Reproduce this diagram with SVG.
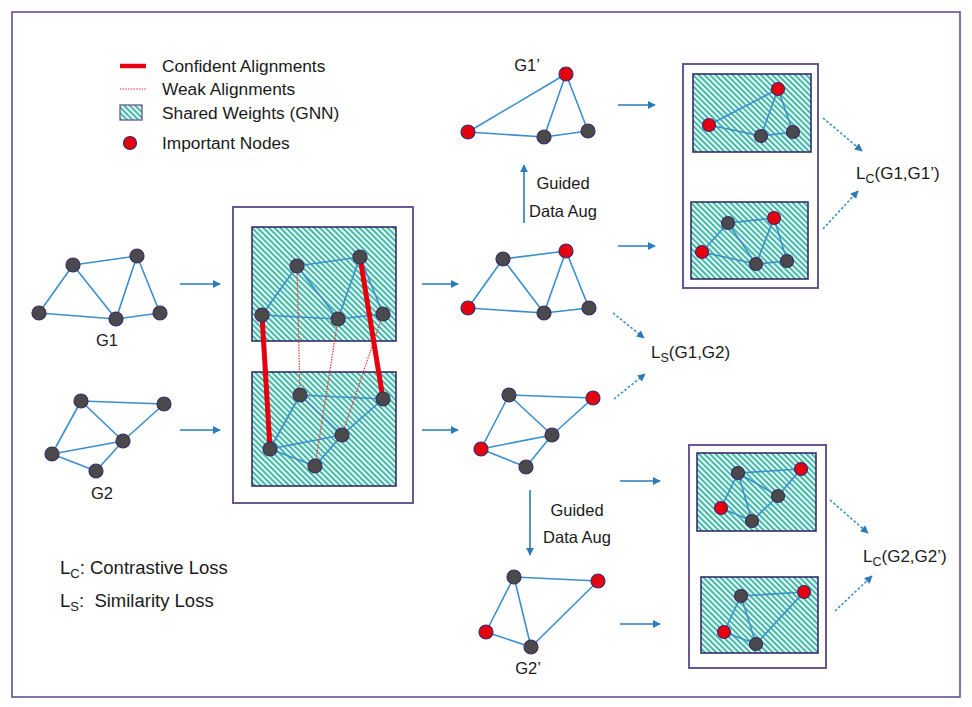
<svg xmlns="http://www.w3.org/2000/svg" width="972" height="707" viewBox="0 0 972 707">
<style>
text{font-family:"Liberation Sans",Arial,sans-serif;fill:#1a1a1a}
.e{stroke:#3a8fcc;stroke-width:1.6;fill:none}
.n{fill:#4a4a4a;stroke:#3b2a6b;stroke-width:1.2}
.r{fill:#e5000f;stroke:#3b2a6b;stroke-width:1.2}
.hat{fill:url(#hatch);stroke:#2d2060;stroke-width:1.5}
.box{fill:#fff;stroke:#6b5694;stroke-width:2}
.arr{stroke:#2b7bba;stroke-width:1.6;fill:none;marker-end:url(#ah)}
.darr{stroke:#3a8fcc;stroke-width:1.6;fill:none;stroke-dasharray:2.5 2;marker-end:url(#ah)}
.conf{stroke:#e5000f;stroke-width:5;stroke-linecap:butt}
.weak{stroke:#f03030;stroke-width:1.2;stroke-dasharray:1.5 1.2}
.lg{font-size:17.3px}
.lab{font-size:16.5px}
</style>
<defs>
<pattern id="hatch" width="4" height="4" patternUnits="userSpaceOnUse" patternTransform="rotate(-45)">
<rect width="4" height="4" fill="#ffffff"/><rect width="2.2" height="4" fill="#42bcaa"/>
</pattern>
<marker id="ah" viewBox="0 0 10 10" refX="9" refY="5" markerWidth="8" markerHeight="8" markerUnits="userSpaceOnUse" orient="auto"><path d="M0,0 L10,5 L0,10 z" fill="#2b7bba"/></marker>
</defs>
<rect x="0" y="0" width="972" height="707" fill="#fff"/>
<rect x="12" y="12" width="948" height="685" fill="none" stroke="#5f3f8f" stroke-width="1.5"/>

<g id="legend">
<line x1="120" y1="66" x2="146" y2="66" stroke="#e5000f" stroke-width="4.5"/>
<line x1="120" y1="89" x2="146" y2="89" class="weak"/>
<rect x="120" y="105" width="22" height="15" fill="url(#hatch)" stroke="#6b5694" stroke-width="1.3"/>
<circle cx="130" cy="143" r="6.5" class="r"/>
<text x="162" y="72" class="lg">Confident Alignments</text>
<text x="162" y="95" class="lg">Weak Alignments</text>
<text x="162" y="119" class="lg">Shared Weights (GNN)</text>
<text x="162" y="149" class="lg">Important Nodes</text>
</g>

<g id="loss-legend">
<text x="60" y="574" font-size="18.5">L<tspan font-size="13" dy="4">C</tspan><tspan dy="-4">: Contrastive Loss</tspan></text>
<text x="60" y="607" font-size="18.5">L<tspan font-size="13" dy="4">S</tspan><tspan dy="-4">:&#160; Similarity Loss</tspan></text>
</g>

<g id="connectors">
<line x1="180" y1="284" x2="220" y2="284" class="arr"/>
<line x1="180" y1="430" x2="220" y2="430" class="arr"/>
<line x1="422" y1="284" x2="458" y2="284" class="arr"/>
<line x1="422" y1="430" x2="458" y2="430" class="arr"/>
<line x1="524" y1="223" x2="524" y2="165" class="arr"/>
<line x1="530" y1="490" x2="530" y2="555" class="arr"/>
<line x1="618" y1="105" x2="655" y2="105" class="arr"/>
<line x1="618" y1="246" x2="655" y2="246" class="arr"/>
<line x1="620" y1="481" x2="660" y2="481" class="arr"/>
<line x1="620" y1="624" x2="660" y2="624" class="arr"/>
<line x1="613" y1="313" x2="644" y2="338" class="darr"/>
<line x1="614" y1="399" x2="645" y2="374" class="darr"/>
<line x1="823" y1="118" x2="862" y2="151" class="darr"/>
<line x1="823" y1="229" x2="858" y2="191" class="darr"/>
<line x1="830" y1="500" x2="868" y2="533" class="darr"/>
<line x1="835" y1="611" x2="872" y2="576" class="darr"/>
</g>

<g id="G1">
<path class="e" d="M73,265L137,256M73,265L39,313M73,265L116,319M137,256L116,319M137,256L160,313M39,313L116,319M116,319L160,313"/>
<circle cx="73" cy="265" r="7" class="n"/><circle cx="137" cy="256" r="7" class="n"/><circle cx="39" cy="313" r="7" class="n"/><circle cx="116" cy="319" r="7" class="n"/><circle cx="160" cy="313" r="7" class="n"/>
<text x="107" y="346" class="lab" text-anchor="middle">G1</text>
</g>

<g id="G2">
<path class="e" d="M81,401L164,404M81,401L123,441M81,401L52,454M52,454L123,441M52,454L96,471M96,471L123,441M123,441L164,404"/>
<circle cx="81" cy="401" r="7" class="n"/><circle cx="164" cy="404" r="7" class="n"/><circle cx="123" cy="441" r="7" class="n"/><circle cx="52" cy="454" r="7" class="n"/><circle cx="96" cy="471" r="7" class="n"/>
<text x="102" y="499" class="lab" text-anchor="middle">G2</text>
</g>

<g id="shared-gnn">
<rect x="233" y="207" width="180" height="296" class="box"/>
<rect x="252" y="227" width="144" height="114" class="hat"/>
<rect x="252" y="372" width="144" height="114" class="hat"/>
<path class="e" d="M297,266L360,257M297,266L262,315M297,266L338,319M360,257L338,319M360,257L383,314M262,315L338,319M338,319L383,314"/>
<path class="e" d="M300,395L383,399M300,395L342,435M300,395L270,449M270,449L342,435M270,449L315,466M315,466L342,435M342,435L383,399"/>
<line x1="297" y1="266" x2="300" y2="395" class="weak"/>
<line x1="338" y1="319" x2="315" y2="466" class="weak"/>
<line x1="383" y1="314" x2="342" y2="435" class="weak"/>
<line x1="262" y1="315" x2="270" y2="449" class="conf"/>
<line x1="360" y1="257" x2="383" y2="399" class="conf"/>
<circle cx="297" cy="266" r="7" class="n"/><circle cx="360" cy="257" r="7" class="n"/><circle cx="262" cy="315" r="7" class="n"/><circle cx="338" cy="319" r="7" class="n"/><circle cx="383" cy="314" r="7" class="n"/>
<circle cx="300" cy="395" r="7" class="n"/><circle cx="383" cy="399" r="7" class="n"/><circle cx="342" cy="435" r="7" class="n"/><circle cx="270" cy="449" r="7" class="n"/><circle cx="315" cy="466" r="7" class="n"/>
</g>

<g id="G1-important">
<path class="e" d="M503,259L566,251M503,259L468,308M503,259L544,313M566,251L544,313M566,251L589,308M468,308L544,313M544,313L589,308"/>
<circle cx="503" cy="259" r="7" class="n"/><circle cx="566" cy="251" r="7" class="r"/><circle cx="468" cy="308" r="7" class="r"/><circle cx="544" cy="313" r="7" class="n"/><circle cx="589" cy="308" r="7" class="n"/>
</g>

<g id="G1prime">
<path class="e" d="M566,74L468,132M566,74L544,137M566,74L588,131M468,132L544,137M544,137L588,131"/>
<circle cx="566" cy="74" r="7" class="r"/><circle cx="468" cy="132" r="7" class="r"/><circle cx="544" cy="137" r="7" class="n"/><circle cx="588" cy="131" r="7" class="n"/>
<text x="527" y="71" class="lab" text-anchor="middle">G1’</text>
</g>

<g id="aug-top">
<text x="563" y="189" class="lab" text-anchor="middle">Guided</text>
<text x="563" y="217" class="lab" text-anchor="middle">Data Aug</text>
</g>

<g id="G2-important">
<path class="e" d="M509,395L593,398M509,395L552,435M509,395L481,449M481,449L552,435M481,449L526,467M526,467L552,435M552,435L593,398"/>
<circle cx="509" cy="395" r="7" class="n"/><circle cx="593" cy="398" r="7" class="r"/><circle cx="552" cy="435" r="7" class="n"/><circle cx="481" cy="449" r="7" class="r"/><circle cx="526" cy="467" r="7" class="n"/>
</g>

<g id="aug-bottom">
<text x="577" y="516" class="lab" text-anchor="middle">Guided</text>
<text x="577" y="543" class="lab" text-anchor="middle">Data Aug</text>
</g>

<g id="G2prime">
<path class="e" d="M514,577L598,581M514,577L486,632M514,577L531,647M486,632L531,647M531,647L598,581"/>
<circle cx="514" cy="577" r="7" class="n"/><circle cx="598" cy="581" r="7" class="r"/><circle cx="486" cy="632" r="7" class="r"/><circle cx="531" cy="647" r="7" class="n"/>
<text x="528" y="674" class="lab" text-anchor="middle">G2’</text>
</g>

<g id="Ls-label">
<text x="651" y="358" font-size="17">L<tspan font-size="12.5" dy="4">S</tspan><tspan dy="-4">(G1,G2)</tspan></text>
</g>

<g id="encoder-G1">
<rect x="683" y="64" width="135" height="224" class="box"/>
<rect x="693" y="74" width="118" height="78" class="hat"/>
<path class="e" d="M778,89L709,125M778,89L761,136M778,89L793,132M709,125L761,136M761,136L793,132"/>
<circle cx="778" cy="89" r="6.5" class="r"/><circle cx="709" cy="125" r="6.5" class="r"/><circle cx="761" cy="136" r="6.5" class="n"/><circle cx="793" cy="132" r="6.5" class="n"/>
<rect x="691" y="202" width="117" height="77" class="hat"/>
<path class="e" d="M728,223L774,218M728,223L702,252M728,223L756,264M774,218L756,264M774,218L787,261M702,252L756,264M756,264L787,261"/>
<circle cx="728" cy="223" r="6.5" class="n"/><circle cx="774" cy="218" r="6.5" class="r"/><circle cx="702" cy="252" r="6.5" class="r"/><circle cx="756" cy="264" r="6.5" class="n"/><circle cx="787" cy="261" r="6.5" class="n"/>
</g>

<g id="Lc1-label">
<text x="856" y="179" font-size="17">L<tspan font-size="12.5" dy="4">C</tspan><tspan dy="-4">(G1,G1’)</tspan></text>
</g>

<g id="encoder-G2">
<rect x="689" y="445" width="137" height="223" class="box"/>
<rect x="697" y="453" width="119" height="78" class="hat"/>
<path class="e" d="M738,473L801,469M738,473L778,496M738,473L721,508M738,473L752,521M721,508L752,521M752,521L778,496M778,496L801,469"/>
<circle cx="738" cy="473" r="6.5" class="n"/><circle cx="801" cy="469" r="6.5" class="r"/><circle cx="778" cy="496" r="6.5" class="n"/><circle cx="721" cy="508" r="6.5" class="r"/><circle cx="752" cy="521" r="6.5" class="n"/>
<rect x="701" y="577" width="117" height="76" class="hat"/>
<path class="e" d="M741,596L804,592M741,596L724,632M741,596L756,644M724,632L756,644M756,644L804,592"/>
<circle cx="741" cy="596" r="6.5" class="n"/><circle cx="804" cy="592" r="6.5" class="r"/><circle cx="724" cy="632" r="6.5" class="r"/><circle cx="756" cy="644" r="6.5" class="n"/>
</g>

<g id="Lc2-label">
<text x="863" y="562" font-size="17">L<tspan font-size="12.5" dy="4">C</tspan><tspan dy="-4">(G2,G2’)</tspan></text>
</g>
</svg>
